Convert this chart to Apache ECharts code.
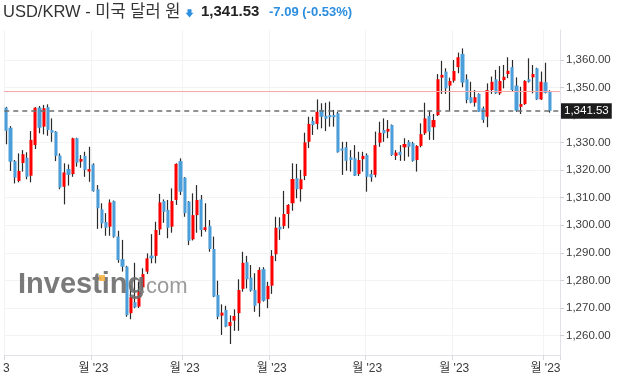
<!DOCTYPE html>
<html><head><meta charset="utf-8">
<script src="https://cdn.jsdelivr.net/npm/echarts@6/dist/echarts.min.js"></script>
<style>html,body{margin:0;padding:0;background:#fff}#c{width:627px;height:386px}</style>
</head><body><div id="c"></div>
<script>
// ---- data ----
const opens = [1342.7,1335.4,1323.3,1316.1,1322.6,1324.5,1318.0,1329.1,1342.7,1335.8,
1342.9,1334.6,1334.0,1325.3,1314.0,1320.4,1318.6,1331.6,1323.1,1325.2,
1319.5,1322.1,1313.1,1305.8,1301.2,1299.5,1308.8,1295.9,1287.7,1285.0,
1268.1,1272.1,1270.5,1277.5,1283.2,1289.0,1288.9,1298.5,1308.8,1305.6,
1299.5,1309.2,1323.3,1317.3,1308.6,1294.9,1303.7,1309.4,1298.3,1299.7,
1291.4,1274.7,1267.2,1269.3,1263.4,1265.4,1268.1,1276.9,1286.6,1281.0,
1276.5,1271.7,1284.1,1273.2,1278.1,1289.5,1299.5,1299.7,1304.1,1308.0,
1317.1,1313.1,1317.9,1330.3,1337.9,1336.8,1341.9,1339.7,1340.0,1340.0,
1340.7,1327.9,1328.3,1324.7,1324.3,1318.6,1324.0,1325.5,1318.6,1318.3,
1330.0,1334.6,1334.0,1336.4,1325.2,1326.7,1328.3,1330.3,1329.8,1323.7,
1328.8,1333.4,1339.7,1335.6,1340.0,1353.6,1355.8,1350.7,1352.5,1357.4,
1362.2,1353.0,1346.5,1344.5,1347.7,1342.5,1339.4,1349.1,1353.0,1347.9,
1352.7,1354.9,1357.4,1350.7,1343.0,1344.0,1353.0,1353.7,1357.0,1345.7,
1351.9,1348.62];
const closes = [1334.3,1323.1,1317.3,1319.7,1325.8,1317.6,1331.0,1342.7,1335.4,1342.5,
1334.6,1333.6,1325.2,1313.7,1319.2,1318.3,1331.6,1322.7,1324.1,1320.1,
1320.4,1312.4,1306.2,1300.7,1299.1,1308.3,1295.9,1287.4,1285.0,1267.4,
1273.9,1270.2,1275.9,1282.3,1288.0,1288.0,1298.3,1308.3,1304.9,1299.1,
1308.8,1322.3,1312.2,1304.4,1294.4,1303.7,1309.2,1298.3,1299.3,1291.4,
1274.1,1266.8,1268.3,1263.2,1264.9,1267.1,1276.5,1286.4,1280.4,1276.3,
1270.8,1283.8,1272.6,1278.0,1288.9,1299.1,1298.5,1304.1,1307.4,1316.8,
1313.1,1316.7,1330.1,1336.8,1336.4,1341.2,1339.4,1338.7,1339.2,1339.2,
1326.5,1327.1,1323.4,1323.7,1318.0,1323.7,1325.2,1317.6,1317.4,1329.1,
1333.6,1333.4,1335.0,1325.5,1326.4,1325.5,1329.5,1328.5,1323.4,1328.8,
1333.1,1338.8,1334.0,1338.2,1353.0,1354.6,1349.7,1352.4,1356.0,1361.0,
1351.8,1345.5,1344.5,1346.5,1341.2,1338.2,1349.1,1352.1,1347.9,1352.4,
1353.9,1356.1,1349.1,1341.6,1344.0,1352.4,1352.1,1354.9,1345.7,1352.1,
1348.1,1341.53];
const lows = [1329.4,1319.7,1315.2,1315.6,1319.5,1316.7,1315.6,1327.7,1333.4,1333.0,
1332.5,1330.3,1323.3,1313.1,1307.6,1314.4,1317.6,1321.3,1320.9,1317.6,
1315.8,1312.2,1298.7,1298.9,1296.2,1296.2,1295.5,1286.4,1283.2,1266.8,
1265.9,1269.9,1270.0,1276.5,1282.3,1286.2,1286.2,1296.5,1300.9,1295.3,
1297.3,1307.4,1311.0,1303.1,1292.8,1294.5,1297.3,1295.9,1297.7,1290.4,
1273.9,1265.9,1260.2,1263.0,1256.9,1261.7,1261.7,1275.9,1277.1,1275.9,
1268.6,1266.8,1272.3,1269.9,1275.1,1287.0,1294.7,1298.7,1298.9,1305.3,
1309.8,1308.6,1316.4,1328.0,1332.8,1334.8,1335.2,1334.2,1335.8,1335.8,
1326.4,1318.3,1319.8,1319.5,1317.9,1317.9,1319.5,1312.2,1315.8,1317.4,
1328.5,1330.3,1331.6,1325.2,1323.7,1323.4,1323.4,1324.9,1323.1,1319.5,
1328.3,1332.8,1331.0,1331.0,1339.7,1347.7,1347.7,1341.6,1351.8,1355.2,
1350.1,1344.3,1344.3,1343.1,1341.1,1337.2,1335.6,1347.7,1347.7,1347.3,
1349.7,1353.4,1348.5,1341.2,1340.4,1343.7,1351.8,1347.9,1345.5,1345.5,
1347.9,1340.9];
const highs = [1343.0,1336.0,1323.7,1326.1,1327.3,1326.5,1334.2,1342.9,1343.3,1343.7,
1343.9,1338.8,1334.2,1326.1,1322.5,1322.1,1331.8,1331.8,1325.5,1326.7,
1328.5,1322.5,1314.6,1308.0,1304.4,1309.4,1309.0,1298.0,1294.7,1285.3,
1278.3,1286.4,1279.5,1284.4,1289.8,1296.8,1301.3,1311.4,1309.4,1309.2,
1313.4,1322.5,1324.3,1317.5,1308.8,1311.6,1314.6,1311.0,1308.0,1301.9,
1295.9,1279.9,1271.3,1270.8,1267.3,1269.5,1280.4,1290.4,1288.9,1285.6,
1282.6,1284.8,1284.8,1279.5,1291.0,1303.1,1302.9,1312.5,1307.7,1322.5,
1322.3,1320.1,1333.6,1339.4,1339.4,1345.7,1344.3,1344.5,1344.9,1341.9,
1341.2,1330.3,1330.3,1327.3,1329.1,1326.7,1326.7,1326.1,1320.1,1334.0,
1337.6,1338.8,1338.2,1336.6,1327.3,1329.1,1331.6,1330.9,1330.3,1329.1,
1337.0,1344.5,1341.6,1340.4,1354.9,1359.7,1357.0,1353.6,1360.0,1362.7,
1364.2,1354.8,1352.1,1349.1,1347.9,1343.1,1351.5,1354.0,1356.4,1357.8,
1358.2,1361.0,1360.0,1353.7,1350.3,1352.7,1360.6,1358.2,1357.2,1355.8,
1359.0,1349.0];
const monthTickIdx = [0, 21, 43, 64, 87, 108, 130];
const monthLabels = ["3", "월 '23", "월 '23", "월 '23", "월 '23", "월 '23", "월 '23"];
const priceTicks = [1260, 1270, 1280, 1290, 1300, 1310, 1320, 1330, 1340, 1350, 1360];
const prevClose = 1348.62;
const pairTitle = "USD/KRW - 미국 달러 원";

// ---- derived ----
const N = closes.length;
const lastClose = closes[N - 1];
const change = lastClose - prevClose;
const changePct = change / prevClose * 100;
const fmt = v => v.toLocaleString('en-US', {minimumFractionDigits: 2, maximumFractionDigits: 2});
const categories = [];
for (let i = 0; i < N + 2; i++) categories.push(String(i));
const wickData = opens.map((o, i) => [o, closes[i], lows[i], highs[i]]);
const bodyData = opens.map((o, i) => [o, closes[i], Math.min(o, closes[i]), Math.max(o, closes[i])]);
const isMonth = i => monthTickIdx.indexOf(i) >= 0;

const FONT = "'Liberation Sans', 'Noto Sans CJK KR', sans-serif";
const UP = '#ff0000', DOWN = '#4a9fdb', WICK = '#2a2a2a';

const chart = echarts.init(document.getElementById('c'), null, {renderer: 'canvas'});
chart.setOption({
  animation: false,
  backgroundColor: '#fff',
  textStyle: {fontFamily: FONT},
  grid: {left: 3.2, right: 67, top: 30, bottom: 31, containLabel: false},
  xAxis: {
    type: 'category', data: categories, boundaryGap: true,
    axisLine: {show: true, lineStyle: {color: '#e1e3e8', width: 1}},
    axisTick: {show: true, interval: (i) => isMonth(i), length: 5, lineStyle: {color: '#d9dbe0'}},
    axisLabel: {interval: (i) => isMonth(i), margin: 8, color: '#3a3a3a', fontSize: 12, fontFamily: FONT,
      formatter: (v, i) => monthLabels[monthTickIdx.indexOf(i)] || ''},
    splitLine: {show: true, interval: (i) => isMonth(i), lineStyle: {color: '#f3f3f3', width: 1}}
  },
  yAxis: {
    type: 'value', position: 'right', scale: true,
    min: 1252.92, max: 1370.89,
    axisLine: {show: true, lineStyle: {color: '#e1e3e8', width: 1}},
    axisTick: {show: true, length: 4, customValues: priceTicks, lineStyle: {color: '#cfd2d8'}},
    axisLabel: {customValues: priceTicks, margin: 6, color: '#3c3c3c', fontSize: 11.5, fontFamily: FONT,
      formatter: v => fmt(v)},
    splitLine: {show: true, lineStyle: {color: '#f3f3f3', width: 1}}
  },
  series: [
    {
      type: 'candlestick', name: 'wick', data: wickData, barWidth: 1,
      itemStyle: {color: WICK, color0: WICK, borderColor: WICK, borderColor0: WICK, borderColorDoji: WICK, borderWidth: 1.2},
      silent: true
    },
    {
      type: 'candlestick', name: 'body', data: bodyData, barWidth: 3.6,
      itemStyle: {color: UP, color0: DOWN, borderColor: UP, borderColor0: DOWN, borderColorDoji: DOWN, borderWidth: 0},
      silent: true,
      markLine: {
        silent: true, symbol: ['none', 'none'], animation: false,
        data: [
          {yAxis: prevClose, lineStyle: {type: 'solid', color: '#f4a8a8', width: 1}, label: {show: false}},
          {yAxis: lastClose, lineStyle: {type: [5, 4], color: '#6e6e6e', width: 1.5},
           label: {show: true, position: 'end', distance: 1, formatter: fmt(lastClose),
             backgroundColor: '#1c1c1c', color: '#fff', fontSize: 11.5, fontFamily: FONT, padding: [2, 3, 2, 3]}}
        ]
      }
    }
  ],
  graphic: [
    {type: 'text', left: 3, top: 4, style: {text: pairTitle, font: "16.5px " + FONT, fill: '#333'}},
    {type: 'polygon', shape: {points: [[187.5,9.3],[191.5,9.3],[191.5,12.7],[193.4,12.7],[189.5,17.4],[185.6,12.7],[187.5,12.7]]}, style: {fill: '#2d8fe0'}},
    {type: 'text', left: 201, top: 4, style: {text: fmt(lastClose), font: "bold 15px " + FONT, fill: '#222'}},
    {type: 'text', left: 269, top: 6, style: {text: change.toFixed(2) + ' (' + changePct.toFixed(2) + '%)', font: "bold 13px " + FONT, fill: '#2b8ee0'}},
    {type: 'text', left: 18, top: 270, z: 100, style: {text: 'Investing', font: "bold 29px " + FONT, fill: 'rgba(108,108,108,0.9)'}},
    {type: 'text', left: 140, top: 276, z: 100, style: {text: '.com', font: "22px " + FONT, fill: 'rgba(135,135,135,0.85)'}},
    {type: 'rect', z: 101, shape: {x: 99, y: 275, width: 6, height: 6}, style: {fill: 'rgba(245,180,70,0.9)'}}
  ]
});
</script></body></html>
